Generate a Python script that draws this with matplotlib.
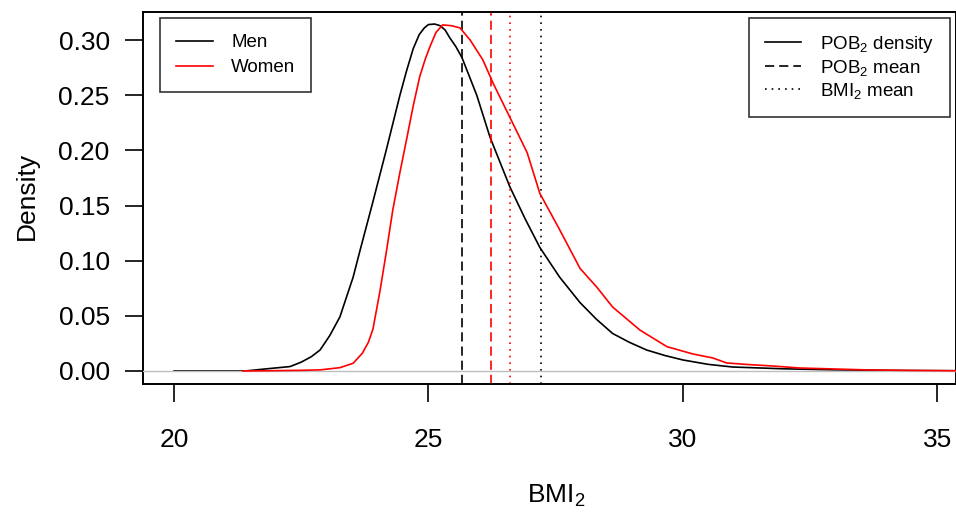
import matplotlib.pyplot as plt
from matplotlib.lines import Line2D

plt.rcParams['font.family'] = ['Liberation Sans', 'DejaVu Sans']
plt.rcParams['mathtext.default'] = 'regular'

# density curves (BMI2 vs density)
men_x = [20.0, 21.4, 21.83, 22.28, 22.5, 22.7, 22.87, 23.06, 23.26, 23.52, 23.66,
         23.89, 24.17, 24.44, 24.57, 24.70, 24.82, 24.92, 25.0, 25.12, 25.23,
         25.33, 25.42, 25.54, 25.66, 25.95, 26.21, 26.6, 26.9, 27.19, 27.58,
         27.98, 28.3, 28.62, 28.95, 29.29, 29.65, 30.0, 30.5, 30.98, 31.96, 33.0,
         34.0, 35.4]
men_y = [0.0, 0.0, 0.002, 0.004, 0.008, 0.013, 0.019, 0.032, 0.049, 0.085, 0.11,
         0.15, 0.20, 0.25, 0.272, 0.292, 0.305, 0.311, 0.314, 0.3145, 0.313,
         0.309, 0.302, 0.294, 0.284, 0.25, 0.212, 0.167, 0.138, 0.112, 0.085,
         0.062, 0.047, 0.034, 0.026, 0.019, 0.014, 0.010, 0.006, 0.0036, 0.002,
         0.001, 0.0005, 0.0002]

women_x = [21.35, 22.0, 22.5, 22.87, 23.26, 23.52, 23.7, 23.82, 23.91, 24.05, 24.18,
           24.30, 24.44, 24.58, 24.70, 24.83, 24.94, 25.03, 25.15, 25.28, 25.45,
           25.62, 25.82, 26.07, 26.27, 26.6, 26.94, 27.19, 27.58, 27.98, 28.31,
           28.62, 29.16, 29.69, 30.2, 30.59, 30.86, 31.3, 31.77, 32.3, 33.6, 34.5,
           35.4]
women_y = [0.0, 0.0003, 0.0006, 0.001, 0.003, 0.007, 0.016, 0.026, 0.038, 0.073,
           0.11, 0.146, 0.18, 0.212, 0.24, 0.267, 0.283, 0.294, 0.307, 0.3137,
           0.313, 0.311, 0.300, 0.282, 0.261, 0.230, 0.198, 0.161, 0.128, 0.093,
           0.076, 0.058, 0.037, 0.022, 0.0154, 0.0118, 0.0073, 0.0058, 0.0045,
           0.0027, 0.001, 0.0005, 0.0002]

# means (POB2 = dashed, BMI2 = dotted)
men_pob_mean, women_pob_mean = 25.66, 26.23
men_bmi_mean, women_bmi_mean = 27.21, 26.60

x_ticks = [20, 25, 30, 35]
y_ticks = [0.00, 0.05, 0.10, 0.15, 0.20, 0.25, 0.30]

fig = plt.figure(figsize=(9.56, 5.16), dpi=100)
ax = fig.add_axes([143 / 956, 1 - 384 / 516, 813 / 956, 372 / 516])

dash = (0, (5.5, 3))
dot = (0, (1, 3))

ax.plot(men_x, men_y, color='black', lw=1.2, zorder=2)
ax.axhline(0, color='#bebebe', lw=1.0, zorder=3)
ax.plot(women_x, women_y, color='#ff0000', lw=1.2, zorder=4)

ax.axvline(men_pob_mean, color='black', lw=1.2, ls=dash)
ax.axvline(women_pob_mean, color='#ff0000', lw=1.2, ls=dash)
ax.axvline(women_bmi_mean, color='#ff0000', lw=1.2, ls=dot)
ax.axvline(men_bmi_mean, color='black', lw=1.2, ls=dot)

ax.set_xlim(19.39, 35.37)
ax.set_ylim(-0.0118, 0.3254)
ax.set_xticks(x_ticks)
ax.set_xticklabels([str(v) for v in x_ticks])
ax.set_yticks(y_ticks)
ax.set_yticklabels([f'{v:.2f}' for v in y_ticks])

for s in ax.spines.values():
    s.set_linewidth(1.4)
ax.tick_params(axis='both', direction='out', length=13, width=1.2,
               labelsize=19)
ax.tick_params(axis='x', pad=19)
ax.tick_params(axis='y', pad=11)

fig.text(27 / 956, 1 - 196 / 516, 'Density', rotation=90, fontsize=19,
         ha='center', va='center')
fig.text(556 / 956, 1 - 496 / 516, 'BMI$_2$', fontsize=19,
         ha='center', va='center')

leg_kw = dict(fontsize=13.5, frameon=True, fancybox=False, borderaxespad=0,
              handlelength=1.95, handletextpad=1.0, borderpad=0.85)

left = ax.legend([Line2D([], [], color='black', lw=1.2),
                  Line2D([], [], color='#ff0000', lw=1.2)],
                 ['Men', 'Women'], loc='upper left', labelspacing=0.42,
                 bbox_to_anchor=(17 / 813, 1 - 6 / 372), **leg_kw)
left.get_frame().set_edgecolor('black')
left.get_frame().set_linewidth(1.2)
ax.add_artist(left)

right = ax.legend([Line2D([], [], color='black', lw=1.2),
                   Line2D([], [], color='black', lw=1.2, ls=dash),
                   Line2D([], [], color='black', lw=1.2, ls=dot)],
                  ['POB$_2$ density', 'POB$_2$ mean', 'BMI$_2$ mean'],
                  loc='upper right', labelspacing=0.15,
                  bbox_to_anchor=(807 / 813, 1 - 6 / 372), **leg_kw)
right.get_frame().set_edgecolor('black')
right.get_frame().set_linewidth(1.2)

fig.savefig('out.png', dpi=100)
